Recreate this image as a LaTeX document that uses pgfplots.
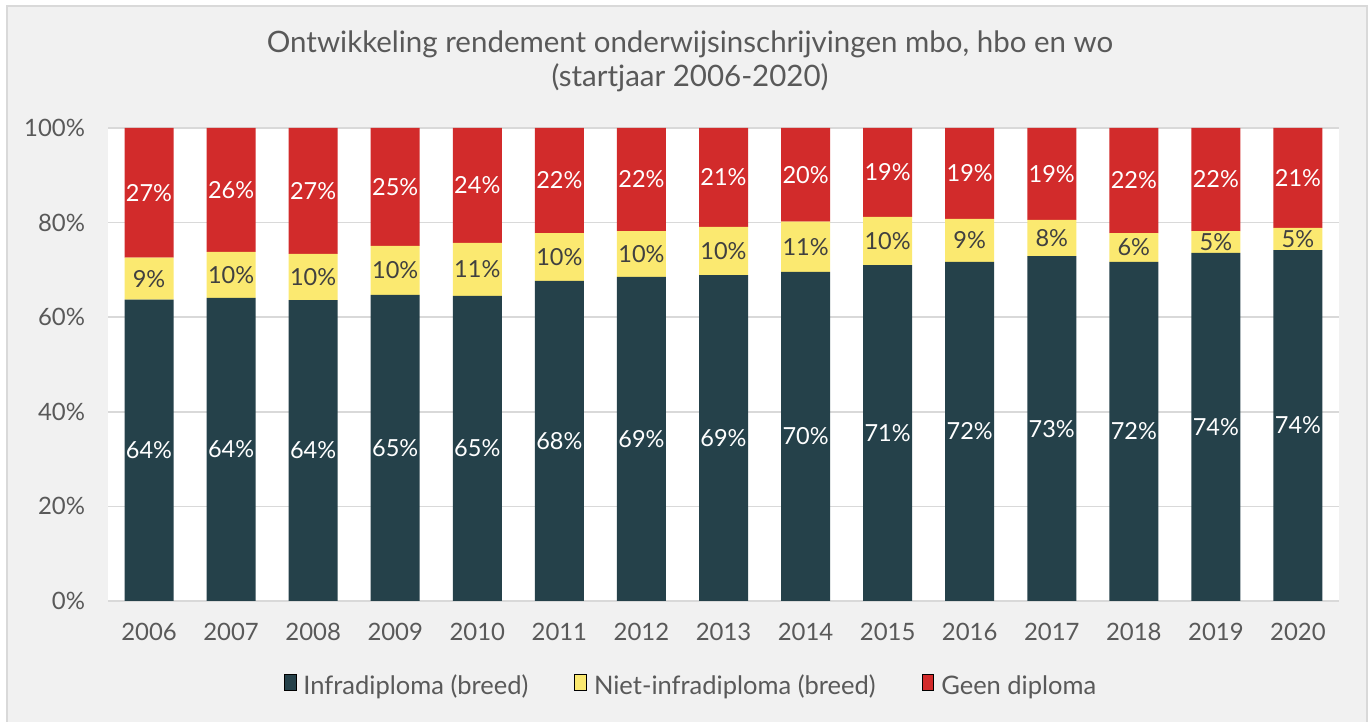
\documentclass[border=0pt]{standalone}
\usepackage{pgfplots}
\pgfplotsset{compat=1.18}
\usepackage{fontspec}
\setmainfont{Lato}
\definecolor{cdark}{HTML}{25414A}
\definecolor{cyellow}{HTML}{FBE970}
\definecolor{cred}{HTML}{D22B2B}
\definecolor{bgc}{HTML}{F1F1F1}
\definecolor{framec}{HTML}{D9D9D9}
\definecolor{txt}{HTML}{595959}
\definecolor{gridc}{HTML}{D9D9D9}
\begin{document}
\begin{tikzpicture}
\path[use as bounding box] (0bp,0bp) rectangle (685bp,361bp);
\fill[bgc] (3.5bp,0bp) rectangle (683.5bp,358bp);
\draw[framec,line width=1bp] (3.5bp,-1bp) -- (3.5bp,358bp) -- (683.5bp,358bp) -- (683.5bp,-1bp);
\node[text=txt,font=\fontsize{14.8}{16}\selectfont,align=center] at (345bp,330.5bp)
  {Ontwikkeling rendement onderwijsinschrijvingen mbo, hbo en wo\\[1bp](startjaar 2006-2020)};
\begin{axis}[
  at={(54bp,60.5bp)}, anchor=south west, scale only axis,
  width=615.5bp, height=236.5bp,
  ybar stacked, bar width=24.5bp,
  xmin=-0.5, xmax=14.5, ymin=0, ymax=100,
  axis background/.style={fill=white},
  axis line style={draw=none},
  ytick={0,20,40,60,80,100},
  yticklabel={\pgfmathprintnumber{\tick}\%},
  xtick={0,...,14},
  xticklabels={2006,2007,2008,2009,2010,2011,2012,2013,2014,2015,2016,2017,2018,2019,2020},
  /pgf/number format/assume math mode=true,
  major tick length=0pt,
  ymajorgrids, grid style={gridc,line width=0.75bp},
  tick label style={font=\fontsize{12}{15}\selectfont,text=txt},
  yticklabel style={xshift=-8bp},
  xticklabel style={yshift=-7.5bp},
  nodes near coords={\pgfmathprintnumber[fixed,precision=0]{\pgfplotspointmeta}\%},
  every node near coord/.append style={anchor=center,font=\fontsize{11.8}{14}\selectfont},
  ybar legend/.style={legend image code/.code={\fill[##1] (0bp,-3.5bp) rectangle (7bp,3.5bp);}},
  legend style={at={(0.4744,-0.18)}, anchor=center, legend columns=3, draw=none, fill=none,
     font=\fontsize{12.8}{15}\selectfont, text=txt,
     /tikz/every odd column/.append style={column sep=1.5bp},
     /tikz/every even column/.append style={column sep=21bp}},
]
\addplot[fill=cdark, draw=none, every node near coord/.append style={text=white}] coordinates {
(0,63.7) (1,64.1) (2,63.6) (3,64.7) (4,64.5) (5,67.7) (6,68.5) (7,68.9) (8,69.6) (9,71.0) (10,71.7) (11,72.9) (12,71.7) (13,73.6) (14,74.2)};
\addplot[fill=cyellow, draw=none, every node near coord/.append style={text=black!75}] coordinates {
(0,8.9) (1,9.7) (2,9.8) (3,10.4) (4,11.2) (5,10.1) (6,9.7) (7,10.2) (8,10.6) (9,10.2) (10,9.1) (11,7.7) (12,6.1) (13,4.6) (14,4.7)};
\addplot[fill=cred, draw=none, every node near coord/.append style={text=white}] coordinates {
(0,27.4) (1,26.2) (2,26.6) (3,24.9) (4,24.3) (5,22.2) (6,21.8) (7,20.9) (8,19.8) (9,18.8) (10,19.2) (11,19.4) (12,22.2) (13,21.8) (14,21.1)};
\legend{Infradiploma (breed),Niet-infradiploma (breed),Geen diploma}
\end{axis}
\end{tikzpicture}
\end{document}
